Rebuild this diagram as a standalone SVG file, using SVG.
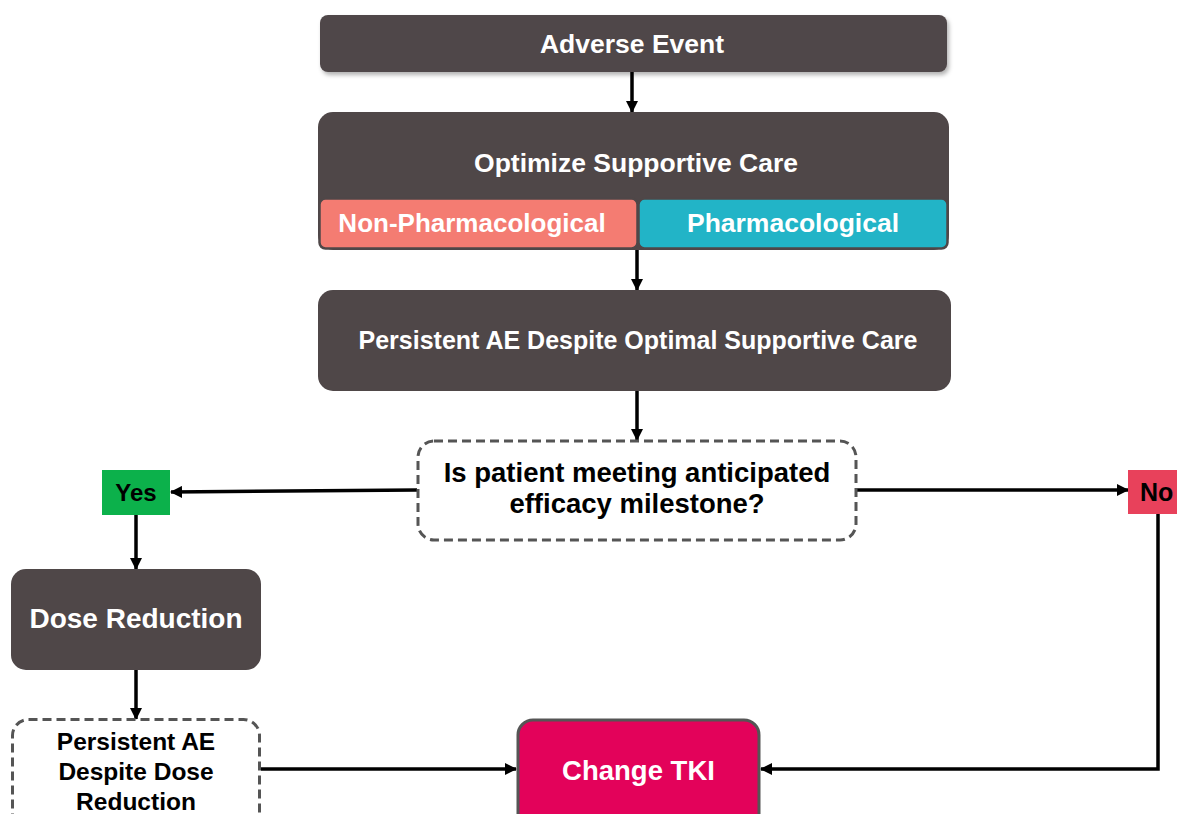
<svg xmlns="http://www.w3.org/2000/svg" width="1177" height="814" viewBox="0 0 1177 814">
<defs>
<marker id="arr" viewBox="0 0 12 12" refX="11" refY="6" markerWidth="12" markerHeight="12" markerUnits="userSpaceOnUse" orient="auto">
<path d="M0,0 L12,6 L0,12 Z" fill="#000"/>
</marker>
<filter id="sh" x="-5%" y="-20%" width="110%" height="150%">
<feDropShadow dx="2" dy="3" stdDeviation="2" flood-color="#000" flood-opacity="0.3"/>
</filter>
<style>
.dark{fill:#4f4748;}
.wt{fill:#fff;font-family:"Liberation Sans",Arial,sans-serif;font-weight:bold;text-anchor:middle;}
.bt{fill:#000;font-family:"Liberation Sans",Arial,sans-serif;font-weight:bold;text-anchor:middle;}
.dash{fill:#fff;stroke:#555;stroke-width:3;stroke-dasharray:9 5;}
.conn{fill:none;stroke:#000;stroke-width:3.5;marker-end:url(#arr);}
</style>
</defs>
<rect width="1177" height="814" fill="#fff"/>
<g id="connectors">
<line class="conn" x1="632" y1="72" x2="632" y2="112"/>
<line class="conn" x1="637" y1="250" x2="637" y2="290"/>
<line class="conn" x1="637" y1="391" x2="637" y2="440"/>
<line class="conn" x1="417" y1="490" x2="171" y2="492"/>
<line class="conn" x1="857" y1="490" x2="1128" y2="490"/>
<line class="conn" x1="136" y1="515" x2="136" y2="569"/>
<line class="conn" x1="136" y1="670" x2="136" y2="719"/>
<line class="conn" x1="261" y1="769" x2="516" y2="769"/>
<polyline class="conn" points="1158,514 1158,769 761,769"/>
</g>
<g id="adverse-event">
<rect class="dark" x="320" y="15" width="627" height="57" rx="8" filter="url(#sh)"/>
<text class="wt" x="632" y="52.5" font-size="26.5">Adverse Event</text>
</g>
<g id="optimize-supportive-care">
<rect class="dark" x="318" y="112" width="631" height="138" rx="15"/>
<text class="wt" x="636" y="172" font-size="26.5">Optimize Supportive Care</text>
<g id="non-pharmacological">
<rect x="319.5" y="198.5" width="318" height="50" rx="6" fill="#f47c72" stroke="#4f4748" stroke-width="2.5"/>
<text class="wt" x="472" y="232" font-size="26">Non-Pharmacological</text>
</g>
<g id="pharmacological">
<rect x="638.5" y="198.5" width="309" height="50" rx="6" fill="#22b4c7" stroke="#4f4748" stroke-width="2.5"/>
<text class="wt" x="793" y="232" font-size="26.5">Pharmacological</text>
</g>
</g>
<g id="persistent-ae-optimal">
<rect class="dark" x="318" y="290" width="633" height="101" rx="15"/>
<text class="wt" x="638" y="349" font-size="25">Persistent AE Despite Optimal Supportive Care</text>
</g>
<g id="decision">
<rect class="dash" x="418" y="441" width="438" height="99" rx="16"/>
<text class="bt" x="637" y="482" font-size="27.5">Is patient meeting anticipated</text>
<text class="bt" x="637" y="513" font-size="27.5">efficacy milestone?</text>
</g>
<g id="yes">
<rect x="102" y="470" width="68" height="45" fill="#0cb14b"/>
<text class="bt" x="136" y="501" font-size="24">Yes</text>
</g>
<g id="no">
<rect x="1128" y="470" width="60" height="44" fill="#e8415b"/>
<text class="bt" x="1158" y="501" font-size="25" text-anchor="start" style="text-anchor:start" dx="-18">No</text>
</g>
<g id="dose-reduction">
<rect class="dark" x="11" y="569" width="250" height="101" rx="15"/>
<text class="wt" x="136" y="628" font-size="28">Dose Reduction</text>
</g>
<g id="persistent-ae-dose">
<rect class="dash" x="12.5" y="719.5" width="247" height="110" rx="16"/>
<text class="bt" x="136" y="750" font-size="24.5">Persistent AE</text>
<text class="bt" x="136" y="780" font-size="24.5">Despite Dose</text>
<text class="bt" x="136" y="810" font-size="24.5">Reduction</text>
</g>
<g id="change-tki">
<rect x="518" y="720" width="241" height="110" rx="15" fill="#e3025a" stroke="#555" stroke-width="3"/>
<text class="wt" x="638.5" y="780" font-size="27.5">Change TKI</text>
</g>
</svg>
